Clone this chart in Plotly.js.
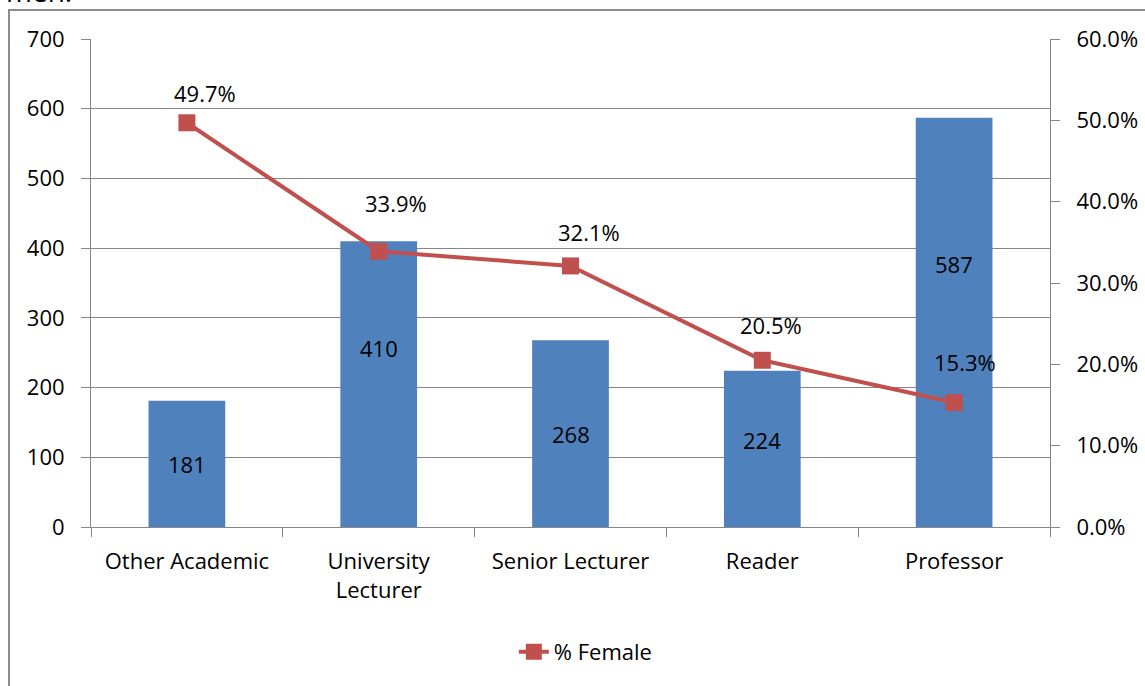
<!DOCTYPE html>
<html><head><meta charset="utf-8">
<script src="https://cdn.plot.ly/plotly-3.0.1.min.js"></script>
<style>
html,body{margin:0;padding:0;background:#fff;}
#wrap{position:relative;width:1145px;height:686px;overflow:hidden;}
#chart{position:absolute;left:0;top:0;width:1145px;height:686px;}
#frame{position:absolute;left:8px;top:9px;width:1200px;height:800px;border-left:2px solid #8c8c8c;border-top:2px solid #8c8c8c;pointer-events:none;}
#cut{position:absolute;left:6px;top:-28px;font-family:'Open Sans',sans-serif;font-size:28px;color:#000;}
</style></head>
<body><div id="wrap"><div id="chart"></div><div id="frame"></div><div id="cut">men.</div></div>
<script>
const categories = ["Other Academic", "University<br>Lecturer", "Senior Lecturer", "Reader", "Professor"];
const counts = [181, 410, 268, 224, 587];
const pctFemale = [0.497, 0.339, 0.321, 0.205, 0.153];
const pctLabels = ["49.7%", "33.9%", "32.1%", "20.5%", "15.3%"];
const leftTicks = [0, 100, 200, 300, 400, 500, 600, 700];
const rightTicks = [0, 0.1, 0.2, 0.3, 0.4, 0.5, 0.6];
const rightTickText = ["0.0%", "10.0%", "20.0%", "30.0%", "40.0%", "50.0%", "60.0%"];

// label placement (as moved by hand in the original chart), in axis units / pixels
const countLabelY = [91, 257, 133, 125, 377];
const pctLabelY = [0.5336, 0.3984, 0.3627, 0.2484, 0.2029];
const pctLabelDx = [18, 17, 18, 9, 11];

const FONT = "'Open Sans', sans-serif";
const FS = 22;
const AX = '#868686';

const bars = {
  type: 'bar', x: categories, y: counts, marker: {color: '#4F81BD'}, width: 0.4,
  showlegend: false, hoverinfo: 'skip'
};
const line = {
  type: 'scatter', mode: 'lines+markers', x: categories, y: pctFemale, yaxis: 'y2',
  name: '% Female', line: {color: '#C0504D', width: 4},
  marker: {symbol: 'square', size: 17, color: '#C0504D'}, showlegend: true
};
const countAnn = categories.map((c, i) => ({
  x: c, y: countLabelY[i], xref: 'x', yref: 'y', text: String(counts[i]),
  showarrow: false, font: {family: FONT, size: FS, color: '#000'}
}));
const pctAnn = categories.map((c, i) => ({
  x: c, y: pctLabelY[i], xref: 'x', yref: 'y2', text: pctLabels[i],
  showarrow: false, xshift: pctLabelDx[i], font: {family: FONT, size: FS, color: '#000'}
}));

const layout = {
  width: 1145, height: 686,
  margin: {l: 91, r: 95, t: 39, b: 159},
  paper_bgcolor: 'rgba(0,0,0,0)', plot_bgcolor: 'rgba(0,0,0,0)',
  font: {family: FONT, size: FS, color: '#000'},
  xaxis: {
    type: 'category', showline: true, linecolor: AX, linewidth: 1,
    ticks: 'outside', tickson: 'boundaries', ticklen: 9, tickcolor: AX,
    showgrid: false, ticklabelstandoff: 15, tickfont: {family: FONT, size: FS}
  },
  yaxis: {
    range: [0, 700], tickvals: leftTicks, ticktext: leftTicks.map(String),
    showline: true, linecolor: AX, ticks: 'outside', ticklen: 9, tickcolor: AX,
    showgrid: true, gridcolor: AX, gridwidth: 1, zeroline: false,
    ticklabelstandoff: 12, tickfont: {family: FONT, size: FS}
  },
  yaxis2: {
    overlaying: 'y', side: 'right', range: [0, 0.6], tickvals: rightTicks, ticktext: rightTickText,
    showline: true, linecolor: AX, ticks: 'outside', ticklen: 9, tickcolor: AX,
    showgrid: false, zeroline: false, ticklabelstandoff: 12, tickfont: {family: FONT, size: FS}
  },
  legend: {orientation: 'h', x: 0.516, xanchor: 'center', y: -0.256, yanchor: 'middle',
    font: {family: FONT, size: FS}},
  annotations: countAnn.concat(pctAnn)
};
Plotly.newPlot('chart', [bars, line], layout, {displayModeBar: false, staticPlot: true});
</script></body></html>
